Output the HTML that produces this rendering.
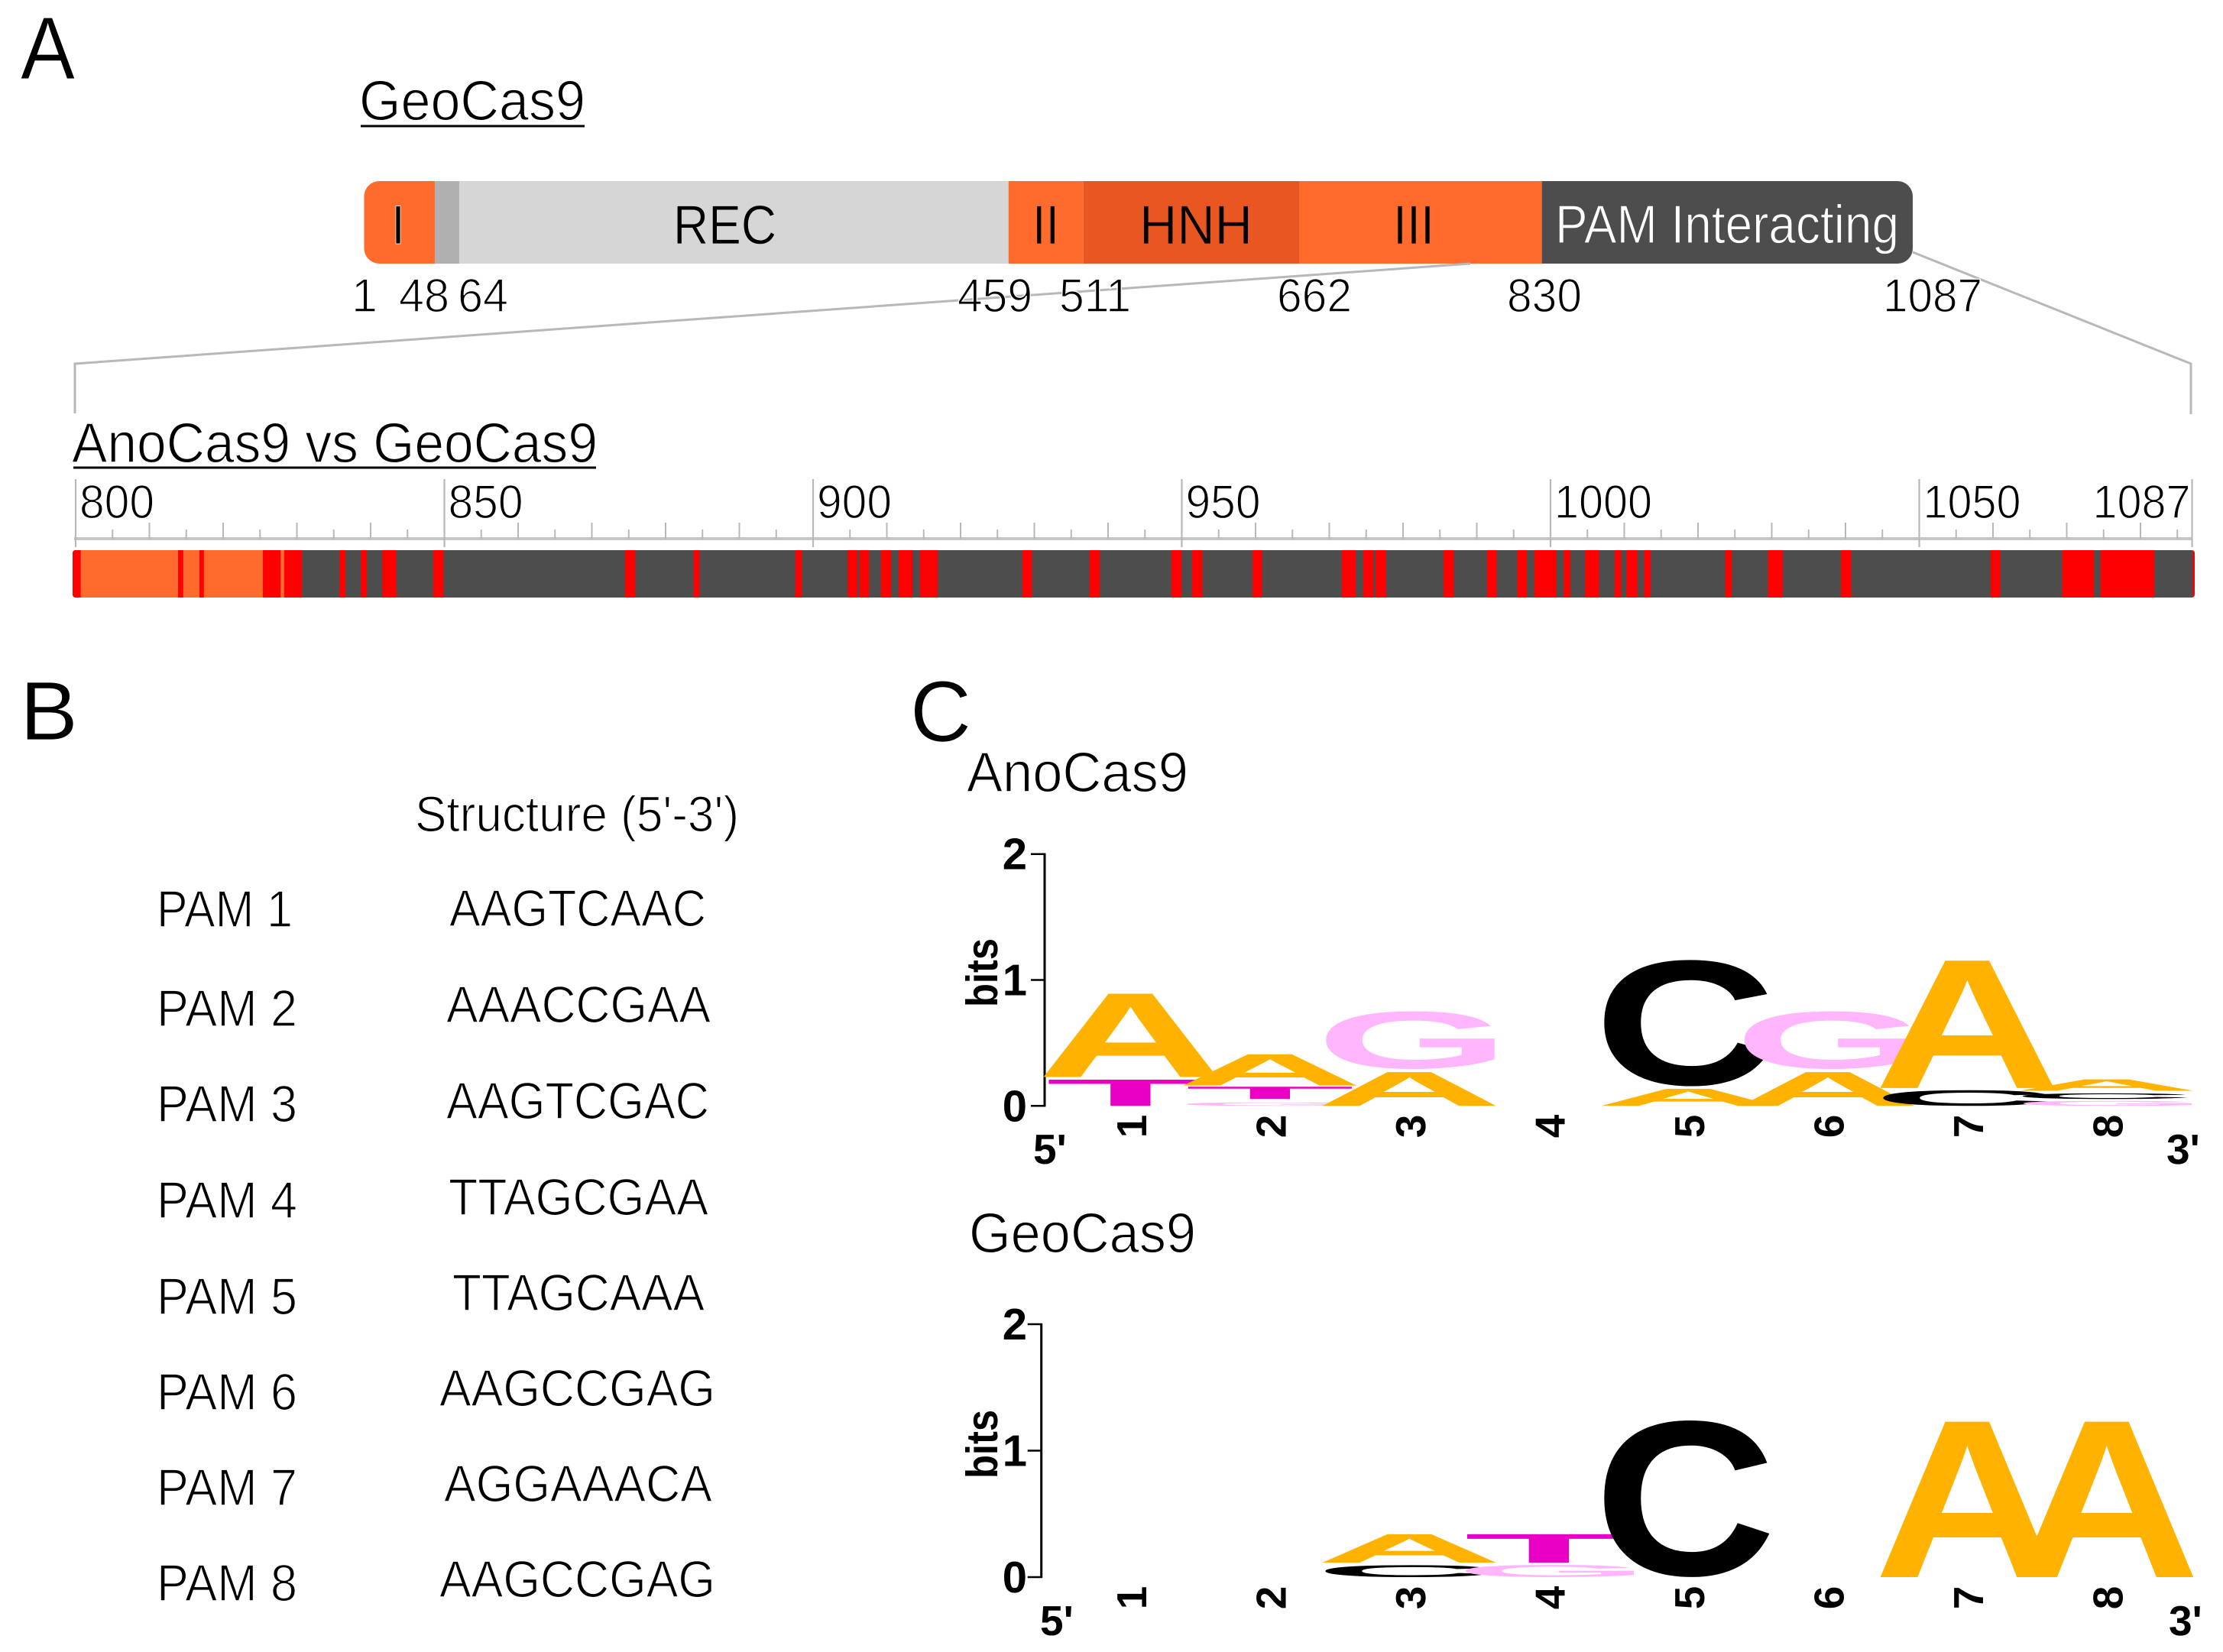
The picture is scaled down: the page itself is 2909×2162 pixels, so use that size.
<!DOCTYPE html>
<html lang="en">
<head>
<meta charset="utf-8">
<title>GeoCas9 domains, mismatches and PAM logos</title>
<style>
html,body{margin:0;padding:0;background:#fff;}
svg{display:block;position:absolute;left:0;top:0;}
text{font-family:"Liberation Sans",sans-serif;text-rendering:geometricPrecision;}
.t{fill:#000;stroke:#fff;stroke-width:1.4px;}
.d{fill:#000;stroke:#fff;stroke-width:.8px;}
.w{fill:#fff;stroke:#4d4d4d;stroke-width:1.2px;}
.b{fill:#000;font-weight:bold;}
</style>
</head>
<body>
<svg id="fig" width="2909" height="2162" viewBox="0 0 2909 2162" xmlns="http://www.w3.org/2000/svg">
<defs>
<clipPath id="domClip"><rect x="476.5" y="237" width="2026.5" height="108" rx="20" ry="20"/></clipPath>
<clipPath id="stripClip"><rect x="95" y="720" width="2777" height="62" rx="4" ry="4"/></clipPath>
</defs>
<rect width="2909" height="2162" fill="#fff"/>

<text class="d" x="27" y="103" font-size="116" textLength="71" lengthAdjust="spacingAndGlyphs">A</text>
<text class="d" x="26" y="968" font-size="109" textLength="76" lengthAdjust="spacingAndGlyphs">B</text>
<text class="d" x="1191" y="970" font-size="113" textLength="80" lengthAdjust="spacingAndGlyphs">C</text>

<text class="t" x="470" y="157" font-size="74" textLength="296" lengthAdjust="spacingAndGlyphs">GeoCas9</text>
<line x1="472" y1="165" x2="765" y2="165" stroke="#000" stroke-width="3"/>

<g id="domains" clip-path="url(#domClip)"></g>
<text class="d" x="512" y="319" font-size="72" textLength="18" lengthAdjust="spacingAndGlyphs">I</text>
<text class="d" x="881" y="319" font-size="72" textLength="135" lengthAdjust="spacingAndGlyphs" style="stroke:#d6d6d6">REC</text>
<text class="d" x="1351" y="319" font-size="72" textLength="35" lengthAdjust="spacingAndGlyphs" style="stroke:#ff6a2d">II</text>
<text class="d" x="1491" y="319" font-size="72" textLength="148" lengthAdjust="spacingAndGlyphs" style="stroke:#e85622">HNH</text>
<text class="d" x="1823" y="319" font-size="72" textLength="54" lengthAdjust="spacingAndGlyphs" style="stroke:#ff6a2d">III</text>
<text class="w" x="2035" y="318" font-size="71" textLength="450" lengthAdjust="spacingAndGlyphs">PAM Interacting</text>

<polyline points="1924,345 98,476 98,541" fill="none" stroke="#b8b8b8" stroke-width="3"/>
<polyline points="2503,330 2867,476 2867,542" fill="none" stroke="#b8b8b8" stroke-width="3"/>

<text class="t" x="460" y="408" font-size="62" textLength="34" lengthAdjust="spacingAndGlyphs">1</text>
<text class="t" x="522" y="408" font-size="62" textLength="66" lengthAdjust="spacingAndGlyphs">48</text>
<text class="t" x="599" y="408" font-size="62" textLength="66" lengthAdjust="spacingAndGlyphs">64</text>
<text class="t" x="1253" y="408" font-size="62" textLength="98" lengthAdjust="spacingAndGlyphs">459</text>
<text class="t" x="1386" y="408" font-size="62" textLength="94" lengthAdjust="spacingAndGlyphs">511</text>
<text class="t" x="1671" y="408" font-size="62" textLength="98" lengthAdjust="spacingAndGlyphs">662</text>
<text class="t" x="1972" y="408" font-size="62" textLength="98" lengthAdjust="spacingAndGlyphs">830</text>
<text class="t" x="2464" y="408" font-size="62" textLength="130" lengthAdjust="spacingAndGlyphs">1087</text>

<text class="t" x="94" y="605" font-size="74" textLength="688" lengthAdjust="spacingAndGlyphs">AnoCas9 vs GeoCas9</text>
<line x1="96" y1="612" x2="780" y2="612" stroke="#000" stroke-width="3"/>

<g id="ruler"></g>
<g id="strip" clip-path="url(#stripClip)"></g>

<g>
<text class="t" x="543" y="1088" font-size="66" textLength="424" lengthAdjust="spacingAndGlyphs">Structure (5'-3')</text>
<text class="t" x="205" y="1213" font-size="68" textLength="178" lengthAdjust="spacingAndGlyphs">PAM 1</text>
<text class="t" x="205" y="1343" font-size="68" textLength="184" lengthAdjust="spacingAndGlyphs">PAM 2</text>
<text class="t" x="205" y="1468" font-size="68" textLength="184" lengthAdjust="spacingAndGlyphs">PAM 3</text>
<text class="t" x="205" y="1594" font-size="68" textLength="184" lengthAdjust="spacingAndGlyphs">PAM 4</text>
<text class="t" x="205" y="1720" font-size="68" textLength="184" lengthAdjust="spacingAndGlyphs">PAM 5</text>
<text class="t" x="205" y="1845" font-size="68" textLength="184" lengthAdjust="spacingAndGlyphs">PAM 6</text>
<text class="t" x="205" y="1970" font-size="68" textLength="184" lengthAdjust="spacingAndGlyphs">PAM 7</text>
<text class="t" x="205" y="2095" font-size="68" textLength="184" lengthAdjust="spacingAndGlyphs">PAM 8</text>
<text class="t" x="588" y="1212" font-size="68" textLength="336" lengthAdjust="spacingAndGlyphs">AAGTCAAC</text>
<text class="t" x="584" y="1338" font-size="68" textLength="346" lengthAdjust="spacingAndGlyphs">AAACCGAA</text>
<text class="t" x="584" y="1464" font-size="68" textLength="344" lengthAdjust="spacingAndGlyphs">AAGTCGAC</text>
<text class="t" x="587" y="1590" font-size="68" textLength="340" lengthAdjust="spacingAndGlyphs">TTAGCGAA</text>
<text class="t" x="592" y="1715" font-size="68" textLength="330" lengthAdjust="spacingAndGlyphs">TTAGCAAA</text>
<text class="t" x="575" y="1840" font-size="68" textLength="361" lengthAdjust="spacingAndGlyphs">AAGCCGAG</text>
<text class="t" x="581" y="1965" font-size="68" textLength="351" lengthAdjust="spacingAndGlyphs">AGGAAACA</text>
<text class="t" x="575" y="2090" font-size="68" textLength="361" lengthAdjust="spacingAndGlyphs">AAGCCGAG</text>
</g>

<text class="t" x="1265" y="1036" font-size="74" textLength="290" lengthAdjust="spacingAndGlyphs">AnoCas9</text>
<text class="t" x="1268" y="1639" font-size="74" textLength="297" lengthAdjust="spacingAndGlyphs">GeoCas9</text>

<g id="logoAno"></g>
<g id="logoGeo"></g>
</svg>

<script>
// Domain map
const domainNames = ['I','linker','REC','II','HNH','III','PAM Interacting'];
const domainStarts = [1,50.6,67.7,452.9,505.4,657,826.9];
const domainEnds = [50.6,67.7,452.9,505.4,657,826.9,1087];
const domainColors = ['#ff6a2d','#b0b0b0','#d6d6d6','#ff6a2d','#e85622','#ff6a2d','#4d4d4d'];

// Residue ruler
const rulerMajor = [800,850,900,950,1000,1050,1087];
const rulerLabels = ['800','850','900','950','1000','1050','1087'];

// Identity strip
const stripOrangeEnd = 831.1;
const stripEnd = 1087.8;
const mismatchStarts = [800,814.3,817.2,825.8,828.7,836.2,839.1,842.0,848.9,874.9,884.2,898.0,905.1,906.7,909.6,912.0,914.9,928.8,937.9,949.0,951.8,960.0,972.1,975.0,976.7,985.9,991.8,995.9,998.2,1002.2,1005.1,1009.1,1010.7,1013.1,1024.1,1029.9,1039.8,1060.1,1069.8,1075.0,1087.5];
const mismatchEnds = [801.1,815.0,817.8,828.2,831.1,837.0,839.9,843.9,850.3,876.3,885.0,898.9,906.4,908.0,911.0,913.9,917.3,930.1,939.3,950.4,953.2,961.3,974.0,976.4,978.1,987.3,993.1,997.2,1001.2,1003.1,1007.0,1010.0,1012.2,1014.0,1025.0,1031.9,1041.2,1061.4,1074.1,1082.3,1087.8];

// Sequence logos: letters per position, with bottom and top in bits
const logoPositions = [1,2,3,4,5,6,7,8];
const bitTicks = [0,1,2];
const anoLetters = [['T','A'],['G','T','A'],['A','G'],[],['A','C'],['A','G'],['C','A'],['G','C','A']];
const anoBottoms = [[0,0.23],[0,0.055,0.162],[0,0.293],[],[0,0.156],[0,0.293],[0,0.142],[0,0.055,0.12]];
const anoTops = [[0.212,0.902],[0.028,0.154,0.414],[0.273,0.752],[],[0.138,1.161],[0.273,0.752],[0.125,1.171],[0.04,0.10,0.212]];
const geoLetters = [[],[],['C','A'],['G','T'],['C'],[],['A'],['A']];
const geoBottoms = [[],[],[0,0.115],[0,0.115],[0],[],[0],[0]];
const geoTops = [[],[],[0.095,0.343],[0.097,0.343],[1.242],[],[1.25],[1.25]];

const NS = 'http://www.w3.org/2000/svg';
function make(parent, tag, attrs, txt){
  const el = document.createElementNS(NS, tag);
  for (const k in attrs) el.setAttribute(k, attrs[k]);
  if (txt !== undefined) el.textContent = txt;
  parent.appendChild(el);
  return el;
}

// Axis functions
const domX = r => 476.5 + (r - 1) * 1.866;
const tickX = r => 99 + (r - 800) * 9.65;
const cellX = r => 95 + (r - 800) * 9.65;

// Domain segments
const domG = document.getElementById('domains');
domainNames.forEach((n, i) => {
  const el = make(domG, 'rect', {x: domX(domainStarts[i]), y: 237, width: domX(domainEnds[i]) - domX(domainStarts[i]), height: 108, fill: domainColors[i]});
  
  
});

// Ruler
const rulerG = document.getElementById('ruler');
const base = make(rulerG, 'line', {x1: 97, y1: 705, x2: tickX(1087), y2: 705, stroke: '#c6c6c6', 'stroke-width': 4});


for (let r = 805; r < 1087; r += 5) {
  if (r % 50 === 0) continue;
  const tick = make(rulerG, 'line', {x1: tickX(r), y1: r % 10 === 0 ? 684 : 693, x2: tickX(r), y2: 705, stroke: '#b8b8b8', 'stroke-width': 2});
  
  
}
rulerMajor.forEach((r, i) => {
  const tick = make(rulerG, 'line', {x1: tickX(r), y1: 627, x2: tickX(r), y2: 716, stroke: '#b8b8b8', 'stroke-width': 2.2});
  
  
  const s = rulerLabels[i];
  const w = s.length === 3 ? 98 : 128;
  const lx = i === rulerMajor.length - 1 ? tickX(r) - w - 2 : tickX(r) + 5;
  const lab = make(rulerG, 'text', {class: 't', x: lx, y: 678, 'font-size': 62, textLength: w, lengthAdjust: 'spacingAndGlyphs'}, s);
  
  
});

// Identity strip
const stripG = document.getElementById('strip');
const dark = make(stripG, 'rect', {x: cellX(800), y: 720, width: cellX(stripEnd) - cellX(800), height: 62, fill: '#4d4d4d'});


const orange = make(stripG, 'rect', {x: cellX(800), y: 720, width: cellX(stripOrangeEnd) - cellX(800), height: 62, fill: '#ff6a2d'});


mismatchStarts.forEach((s, i) => {
  const m = make(stripG, 'rect', {x: cellX(s), y: 720, width: cellX(mismatchEnds[i]) - cellX(s), height: 62, fill: '#ff0000'});
  
  
});

// Logos
const ctx = document.createElement('canvas').getContext('2d');
ctx.font = 'bold 100px "Liberation Sans"';
const glyphColor = {A:'#ffb300', C:'#000000', G:'#ffb6fb', T:'#e900c4'};
const glyphWidth = {A:230, C:218, G:222, T:218};
const glyphShift = {A:-2, C:-3, G:0, T:0};
const colX = p => 1481 + (p - 1) * 182.5;

function glyph(parent, ch, xc, w, yTop, yBot) {
  const m = ctx.measureText(ch);
  const l = m.actualBoundingBoxLeft, r = m.actualBoundingBoxRight;
  const a = m.actualBoundingBoxAscent, d = m.actualBoundingBoxDescent;
  const sx = w / (r + l), sy = (yBot - yTop) / (a + d);
  const tx = xc - w / 2 + l * sx, ty = yBot - d * sy;
  return make(parent, 'text', {x: 0, y: 0, 'font-size': 100, 'font-weight': 'bold', fill: glyphColor[ch], transform: 'matrix(' + sx + ' 0 0 ' + sy + ' ' + tx + ' ' + ty + ')'}, ch);
}

function drawLogo(id, prefix, axisX, y0, bitPx, letters, bottoms, tops, posLabelY, endY, fiveX, threeX, bitsCenter) {
  const g = document.getElementById(id);
  const yS = v => y0 - v * bitPx;
  const axis = make(g, 'line', {x1: axisX, y1: yS(2) - 1, x2: axisX, y2: yS(0) + 1, stroke: '#000', 'stroke-width': 3});
  
  
  bitTicks.forEach(t => {
    const tk = make(g, 'line', {x1: axisX - 18, y1: yS(t), x2: axisX + 1, y2: yS(t), stroke: '#000', 'stroke-width': 2.5});
    
    
    const lb = make(g, 'text', {class: 'b', x: 1344, y: yS(t) + 20, 'font-size': 58, 'text-anchor': 'end'}, String(t));
    
    
  });
  const bits = make(g, 'text', {class: 'b', x: 0, y: 0, 'font-size': 58, 'text-anchor': 'middle', textLength: 90, lengthAdjust: 'spacingAndGlyphs', transform: 'translate(1305 ' + bitsCenter + ') rotate(-90)'}, 'bits');
  
  
  logoPositions.forEach((p, i) => {
    letters[i].forEach((ch, j) => {
      const el = glyph(g, ch, colX(p) + glyphShift[ch], glyphWidth[ch], yS(tops[i][j]), yS(bottoms[i][j]));
      
      
    });
  });
  logoPositions.forEach(p => {
    const pl = make(g, 'text', {class: 'b', x: 0, y: 0, 'font-size': 55, 'text-anchor': 'middle', transform: 'translate(' + (colX(p) + 19) + ' ' + posLabelY + ') rotate(-90)'}, String(p));
    
    
  });
  const five = make(g, 'text', {class: 'b', x: fiveX, y: endY, 'font-size': 55}, "5'");
  
  
  const three = make(g, 'text', {class: 'b', x: threeX, y: endY, 'font-size': 55}, "3'");
  
  
}

drawLogo('logoAno', 'ano', 1367, 1447.3, 164.8, anoLetters, anoBottoms, anoTops, 1474, 1523, 1352, 2835, 1273);
drawLogo('logoGeo', 'geo', 1362.7, 2064, 165.5, geoLetters, geoBottoms, geoTops, 2091, 2140, 1361, 2838, 1890);
</script>
</body>
</html>
